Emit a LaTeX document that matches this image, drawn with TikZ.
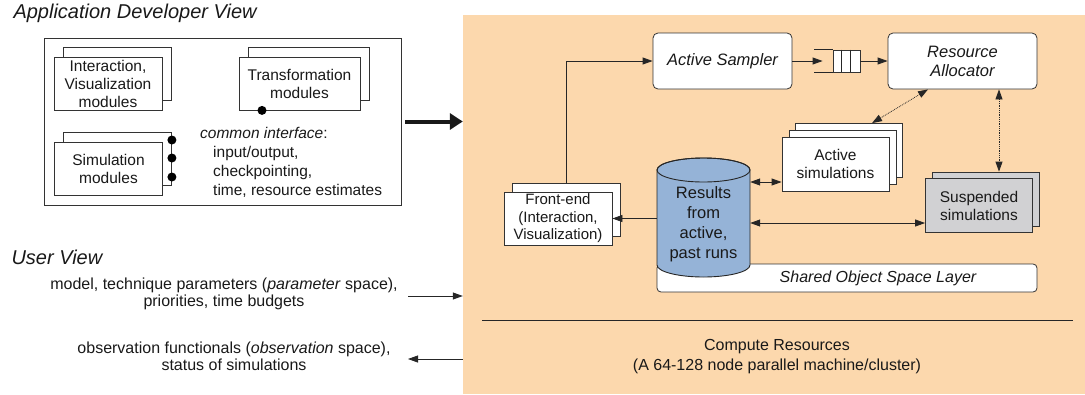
\documentclass[tikz,border=0pt]{standalone}
\usepackage{fontspec}
\setmainfont{Liberation Sans}
\usepackage{tikz}
\usetikzlibrary{arrows.meta,positioning}

\definecolor{peach}{RGB}{252,216,173}
\definecolor{dbblue}{RGB}{149,179,215}
\definecolor{suspgray}{RGB}{209,209,211}

\begin{document}
\begin{tikzpicture}[
      x=1pt, y=-1pt,
      >={Triangle[length=10pt,width=7pt]},
      every node/.style={text=black!90, font=\fontsize{16}{17}\selectfont},
      modbox/.style={draw=black!80, fill=white, line width=0.8pt, minimum width=108pt,
        minimum height=53pt, align=center, inner sep=1pt, font=\fontsize{15.5}{18}\selectfont},
      rbox/.style={draw=black!80, fill=white, line width=0.8pt, rounded corners=5pt,
        minimum height=56pt, align=center, font=\fontsize{16.5}{19}\selectfont\itshape},
      dot/.style={circle, fill=black, inner sep=0pt, minimum size=9pt},
      link/.style={line width=0.8pt, draw=black!85},
      dotlink/.style={line width=0.8pt, draw=black!85, densely dotted, <->},
      heading/.style={anchor=base west, font=\fontsize{20}{22}\selectfont\itshape}]
    \useasboundingbox (0,0) rectangle (1085,394);

    % developer side
    \node[heading] (devtitle) at (10,18) {Application Developer View};
    \node[draw=black!80, line width=0.8pt, minimum width=357pt, minimum height=167pt] (devbox) at (222.5,121.5) {};
    \foreach \n/\x/\y/\w in {iv/108/83.5/108, tr/299.5/83.5/121, sim/108.5/168.5/108}
      \node[modbox, minimum width=\w pt] (\n-back) at (\x+9,\y-9.5) {};
    \node[modbox] (iv) at (108,83.5) {Interaction,\\Visualization\\modules};
    \node[modbox, minimum width=121pt] (tr) at (299.5,83.5) {Transformation\\modules};
    \node[modbox] (sim) at (108.5,168.5) {Simulation\\modules};
    \node[dot] (trdot) at ([xshift=-37.5pt]tr.south) {};
    \foreach \yy in {140,158,177}
      \node[dot] (simdot\yy) at (sim-back.east |- 0,\yy) {};
    \node[anchor=north west, align=left, inner sep=0pt, font=\fontsize{15.5}{19}\selectfont] (iface) at (200,127)
      {\textit{common interface}:\\ \hspace*{13pt}input/output,\\ \hspace*{13pt}checkpointing,\\ \hspace*{13pt}time, resource estimates};

    % compute side
    \node[fill=peach, minimum width=622pt, minimum height=379pt, inner sep=0pt] (compute) at (774,204.5) {};
    \draw[line width=4pt, black!90, -{Triangle[length=13pt,width=16pt]}]
      ([xshift=4pt]devbox.east) -- (devbox.east -| compute.west);

    \node[rbox, minimum width=139pt] (sampler) at (722.5,61) {Active Sampler};
    \node[draw=black!80, fill=white, line width=0.8pt, minimum width=27pt, minimum height=22pt, inner sep=0pt] (queue) at (846.5,61) {};
    \foreach \k in {9,18}
      \draw[link] ([xshift=\k pt]queue.north west) -- ([xshift=\k pt]queue.south west);
    \draw[link] (queue.north west) -- ++(-19,0);
    \draw[link] (queue.south west) -- ++(-19,0);
    \node[rbox, minimum width=149pt] (alloc) at (962.5,61) {Resource\\Allocator};

    \foreach \s/\n in {13.5/2,7/1}
      \node[modbox, minimum width=107pt, minimum height=54pt] (act-\n) at (835.5+\s,164-\s) {};
    \node[modbox, minimum width=107pt, minimum height=54pt] (act) at (835.5,164) {Active\\simulations};

    \node[modbox, fill=suspgray, minimum width=107pt, minimum height=54pt] (susp-back) at (985.5,199) {};
    \node[modbox, fill=suspgray, minimum width=107pt, minimum height=54pt] (susp) at (979,205.5) {Suspended\\simulations};

    \node[modbox, font=\fontsize{15}{17.5}\selectfont] (fe-back) at (566.5,210) {};
    \node[modbox, font=\fontsize{15}{17.5}\selectfont] (fe) at (558,218.5) {Front-end\\(Interaction,\\Visualization)};

    \node[draw=black!80, fill=white, line width=0.8pt, rounded corners=4pt, minimum width=380pt, minimum height=28pt,
      label={[xshift=31pt, font=\fontsize{16}{17}\selectfont\itshape]center:Shared Object Space Layer}] (layer) at (847,278) {};

    % results store
    \path[fill=dbblue, draw=black!85, line width=0.9pt] (657,170) -- (657,265)
      arc[start angle=180, end angle=0, x radius=46.5, y radius=12] -- (750,170)
      arc[start angle=0, end angle=-180, x radius=46.5, y radius=12] -- cycle;
    \draw[black!85, line width=0.9pt] (703.5,170) ellipse[x radius=46.5, y radius=12];
    \node[align=center, inner sep=0pt, minimum width=93pt, minimum height=107pt,
      font=\fontsize{16.5}{20}\selectfont] (db) at (703.5,224) {Results\\from\\active,\\past runs};

    \draw[link, <->] (db.east |- 0,182) -- (act.west |- 0,182);
    \draw[link, <->] (db.east |- 0,223) -- (susp.west |- 0,223);
    \draw[link, ->] (db.west |- fe.east) -- (fe.east);
    \draw[link, ->] (fe-back.north) |- (sampler.west);
    \draw[link, ->] (sampler.east) -- ([xshift=-10pt]queue.west);
    \draw[link, ->] (queue.east) -- (alloc.west);
    \draw[dotlink] ([xshift=-34.5pt]alloc.south) -- ([xshift=23pt]act-2.north);
    \draw[dotlink] ([xshift=36.5pt]alloc.south) -- ([xshift=13.5pt]susp-back.north);

    \draw[link] (482,320) -- (1073,320);
    \node[align=center, font=\fontsize{16}{20}\selectfont] (res) at (777,357)
      {Compute Resources\\(A 64-128 node parallel machine/cluster)};

    % user side
    \node[heading] (usertitle) at (8,264) {User View};
    \node[align=center] (param) at (224,293.5) {model, technique parameters (\textit{parameter} space),\\priorities, time budgets};
    \node[align=center] (obs) at (234,356) {observation functionals (\textit{observation} space),\\status of simulations};
    \coordinate (paramtail) at (408,296);
    \coordinate (obshead) at (408,359);
    \draw[link, ->] (paramtail) -- (paramtail -| compute.west);
    \draw[link, <-] (obshead) -- (obshead -| compute.west);
  \end{tikzpicture}
\end{document}
